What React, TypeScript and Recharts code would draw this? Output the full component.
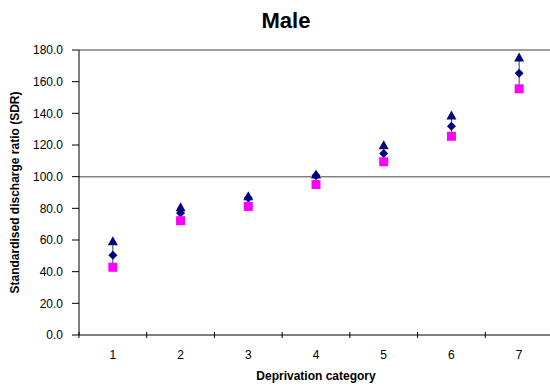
import React from 'react';
import {
  ComposedChart,
  Scatter,
  XAxis,
  YAxis,
  ReferenceLine,
  ErrorBar,
  Label,
} from 'recharts';

// values
const categories = ['1', '2', '3', '4', '5', '6', '7'];
const upperValues = [59.5, 81, 88, 101.7, 120.2, 139, 175.6];
const sdrValues = [50.4, 77, 86.5, 100.7, 114.7, 131.8, 165.3];
const lowerValues = [42.8, 72.2, 81.2, 95, 109.4, 125.5, 155.5];
const yTicks = [0, 20, 40, 60, 80, 100, 120, 140, 160, 180];

const NAVY = '#000080';
const MAGENTA = '#FF00FF';
const FONT = '"Liberation Sans", Arial, sans-serif';

const data = categories.map((cat, i) => ({
  cat,
  upper: upperValues[i],
  sdr: sdrValues[i],
  lower: lowerValues[i],
  err: [sdrValues[i] - lowerValues[i], upperValues[i] - sdrValues[i]],
}));

const Triangle = (props: any) => {
  const { cx, cy } = props;
  if (cx == null || cy == null) return null;
  return (
    <path
      d={`M${cx},${cy - 4.5} L${cx + 5},${cy + 4.5} L${cx - 5},${cy + 4.5} Z`}
      fill={NAVY}
    />
  );
};

const Diamond = (props: any) => {
  const { cx, cy } = props;
  if (cx == null || cy == null) return null;
  return (
    <path
      d={`M${cx},${cy - 4.5} L${cx + 4.5},${cy} L${cx},${cy + 4.5} L${cx - 4.5},${cy} Z`}
      fill={NAVY}
    />
  );
};

const Square = (props: any) => {
  const { cx, cy } = props;
  if (cx == null || cy == null) return null;
  return <rect x={cx - 4.5} y={cy - 4.5} width={9} height={9} fill={MAGENTA} />;
};

// category labels at band centres, tick marks on the band edges
const XTick = (props: any) => {
  const { x, y, payload, index } = props;
  const off = payload && payload.offset ? payload.offset : 33.9;
  const axisY = y - 15;
  return (
    <g>
      <line x1={x - off} x2={x - off} y1={axisY - 3} y2={axisY + 3} stroke="#000" />
      {index === categories.length - 1 && (
        <line x1={x + off} x2={x + off} y1={axisY - 3} y2={axisY + 3} stroke="#000" />
      )}
      <text x={x} y={y} dy="0.71em" textAnchor="middle" fontSize={12} fontFamily={FONT} fill="#000">
        {payload.value}
      </text>
    </g>
  );
};

const App: React.FC = () => {
  return (
    <div style={{ position: 'absolute', left: 0, top: 0, width: 550, height: 387, overflow: 'hidden' }}>
      <ComposedChart
        width={556}
        height={387}
        data={data}
        margin={{ top: 50, right: 3, bottom: 0, left: 0 }}
      >
        <XAxis
          dataKey="cat"
          type="category"
          scale="band"
          height={52}
          axisLine={{ stroke: '#000' }}
          tickLine={false}
          tickSize={0}
          tickMargin={15}
          tick={<XTick />}
        >
          <Label
            content={(p: any) => {
              const vb = p.viewBox;
              return (
                <text
                  x={vb.x + vb.width / 2}
                  y={vb.y + vb.height - 7}
                  textAnchor="middle"
                  fontSize={12}
                  fontWeight="bold"
                  fontFamily={FONT}
                  fill="#000"
                >
                  Deprivation category
                </text>
              );
            }}
          />
        </XAxis>
        <YAxis
          width={79}
          domain={[0, 180]}
          ticks={yTicks}
          interval={0}
          tickFormatter={(v: number) => v.toFixed(1)}
          tick={{ fontSize: 12, fill: '#000', fontFamily: FONT }}
          tickSize={7}
          tickMargin={9}
          axisLine={{ stroke: '#000' }}
          tickLine={{ stroke: '#000' }}
        >
          <Label
            content={(p: any) => {
              const vb = p.viewBox;
              const cx = vb.x + 15;
              const cy = vb.y + vb.height / 2;
              return (
                <text
                  x={cx}
                  y={cy}
                  transform={`rotate(-90, ${cx}, ${cy})`}
                  textAnchor="middle"
                  dominantBaseline="central"
                  fontSize={12}
                  fontWeight="bold"
                  fontFamily={FONT}
                  fill="#000"
                >
                  Standardised discharge ratio (SDR)
                </text>
              );
            }}
          />
        </YAxis>
        <ReferenceLine y={180} stroke="#808080" strokeWidth={1.5} />
        <ReferenceLine y={100} stroke="#808080" strokeWidth={1.5} />
        <Scatter dataKey="sdr" shape={<Diamond />} isAnimationActive={false}>
          <ErrorBar dataKey="err" direction="y" width={0} stroke="#404040" strokeWidth={1} />
        </Scatter>
        <Scatter dataKey="lower" shape={<Square />} isAnimationActive={false} />
        <Scatter dataKey="upper" shape={<Triangle />} isAnimationActive={false} />
      </ComposedChart>
      <svg width={550} height={40} style={{ position: 'absolute', left: 0, top: 0 }}>
        <text x={286} y={28} textAnchor="middle" fontSize={22} fontWeight="bold" fontFamily={FONT} fill="#000">
          Male
        </text>
      </svg>
    </div>
  );
};

export default App;
